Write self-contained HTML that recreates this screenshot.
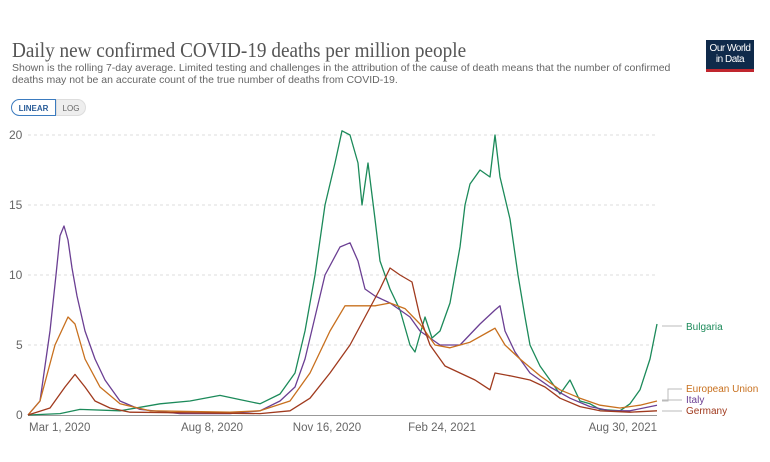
<!DOCTYPE html>
<html><head><meta charset="utf-8"><style>
body{margin:0;background:#fff;width:770px;height:462px;overflow:hidden;font-family:"Liberation Sans",sans-serif;}
.t{position:absolute;left:12px;top:38px;font-family:"Liberation Serif",serif;font-size:21px;color:#555;transform:scaleX(0.915);transform-origin:0 0;white-space:nowrap}
.s{position:absolute;left:12px;top:62px;font-size:10.5px;line-height:12px;color:#666;width:660px;}
.logo{position:absolute;left:706px;top:40px;width:48px;height:32px;background:#0f2a4a;color:#fff;font-size:10px;line-height:11px;text-align:center;padding-top:3px;box-sizing:border-box;border-bottom:3px solid #c0262e;letter-spacing:-0.5px}
.btn{position:absolute;top:99px;height:17px;font-size:8px;line-height:17px;text-align:center;box-sizing:border-box}
</style></head><body>
<div class="t">Daily new confirmed COVID-19 deaths per million people</div>
<div class="s">Shown is the rolling 7-day average. Limited testing and challenges in the attribution of the cause of death means that the number of confirmed deaths may not be an accurate count of the true number of deaths from COVID-19.</div>
<div class="logo">Our World<br>in Data</div>
<div class="btn" style="left:11px;width:45px;border:1px solid #3b7bbf;border-radius:9px 0 0 9px;color:#2a5d99;font-weight:bold">LINEAR</div>
<div class="btn" style="left:56px;width:30px;background:#eee;border:1px solid #ddd;border-radius:0 9px 9px 0;color:#666">LOG</div>
<svg width="770" height="462" style="position:absolute;left:0;top:0" font-family="Liberation Sans, sans-serif">
<g stroke="#ddd" stroke-dasharray="3,3" stroke-width="1">
<line x1="28" x2="657" y1="135" y2="135"/><line x1="28" x2="657" y1="205" y2="205"/><line x1="28" x2="657" y1="275" y2="275"/><line x1="28" x2="657" y1="345" y2="345"/></g>
<line x1="28" x2="657" y1="415.5" y2="415.5" stroke="#999"/>
<g fill="#666" font-size="12"><text x="9" y="139">20</text><text x="9" y="209">15</text><text x="9" y="279">10</text><text x="16" y="349">5</text><text x="16" y="419">0</text></g>
<g fill="#666" font-size="11.5"><text x="29" y="431">Mar 1, 2020</text><text x="212" y="431" text-anchor="middle">Aug 8, 2020</text><text x="327" y="431" text-anchor="middle">Nov 16, 2020</text><text x="442" y="431" text-anchor="middle">Feb 24, 2021</text><text x="657" y="431" text-anchor="end">Aug 30, 2021</text></g>
<g transform="translate(0,415) scale(1,-14)" fill="none" stroke-width="1.3" stroke-linejoin="round">
<polyline vector-effect="non-scaling-stroke" stroke="#1c8a5a" points="28,0 60,0.1 80,0.4 120,0.3 160,0.8 190,1.0 220,1.4 240,1.1 260,0.8 280,1.5 295,3 305,6 315,10 325,15 335,18 342,20.3 350,20 358,18 362,15 368,18 375,14 380,11 390,9 400,7.5 410,5 415,4.5 425,7 432,5.5 440,6 450,8 460,12 465,15 470,16.5 480,17.5 490,17 495,20 500,17 510,14 518,10 525,7 530,5 540,3.5 550,2.5 560,1.5 570,2.5 580,1 590,0.8 600,0.4 620,0.3 630,0.8 640,1.8 650,4 657,6.5"/>
<polyline vector-effect="non-scaling-stroke" stroke="#6b3f93" points="28,0 40,1 50,6 56,10 60,12.8 64,13.5 68,12.5 72,10.5 77,8.5 85,6 95,4 105,2.5 120,1 140,0.4 180,0.1 230,0.1 260,0.3 280,1 295,2 305,4 315,7 325,10 340,12 350,12.3 358,11 365,9 375,8.5 390,8 400,7.5 410,7 420,6 430,5.5 440,5 460,5 480,6.5 495,7.5 500,7.8 505,6 515,4.5 530,3 550,2 570,1.2 590,0.6 610,0.3 630,0.3 657,0.7"/>
<polyline vector-effect="non-scaling-stroke" stroke="#c8701e" points="28,0 40,1 55,5 68,7 75,6.5 85,4 100,2 120,0.8 150,0.3 230,0.2 260,0.3 290,1 310,3 330,6 345,7.8 360,7.8 375,7.8 390,8 405,7.6 420,6.5 435,5 450,4.8 470,5.2 490,6 495,6.2 505,5 520,4 540,2.8 560,1.8 580,1.2 600,0.7 620,0.5 640,0.7 657,1.0"/>
<polyline vector-effect="non-scaling-stroke" stroke="#a03a1e" points="28,0 50,0.5 65,2 75,2.9 85,2 95,1 110,0.5 130,0.2 260,0.1 290,0.3 310,1.2 330,3 350,5 365,7 380,9 390,10.5 400,10 412,9.5 420,7 430,5 445,3.5 460,3 475,2.5 490,1.8 495,3 510,2.8 530,2.5 545,2 560,1.2 580,0.6 600,0.3 630,0.2 657,0.3"/>
</g>
<g stroke="#bbb" fill="none"><line x1="662" y1="326" x2="682" y2="326"/><polyline points="662,401 668,401 668,389 682,389"/><line x1="662" y1="400" x2="682" y2="400"/><line x1="662" y1="411" x2="682" y2="411"/></g>
<g font-size="10"><text x="686" y="330" fill="#1c8a5a">Bulgaria</text><text x="686" y="392" fill="#c8701e">European Union</text><text x="686" y="403" fill="#6b3f93">Italy</text><text x="686" y="414" fill="#a03a1e">Germany</text></g>
</svg>
</body></html>
